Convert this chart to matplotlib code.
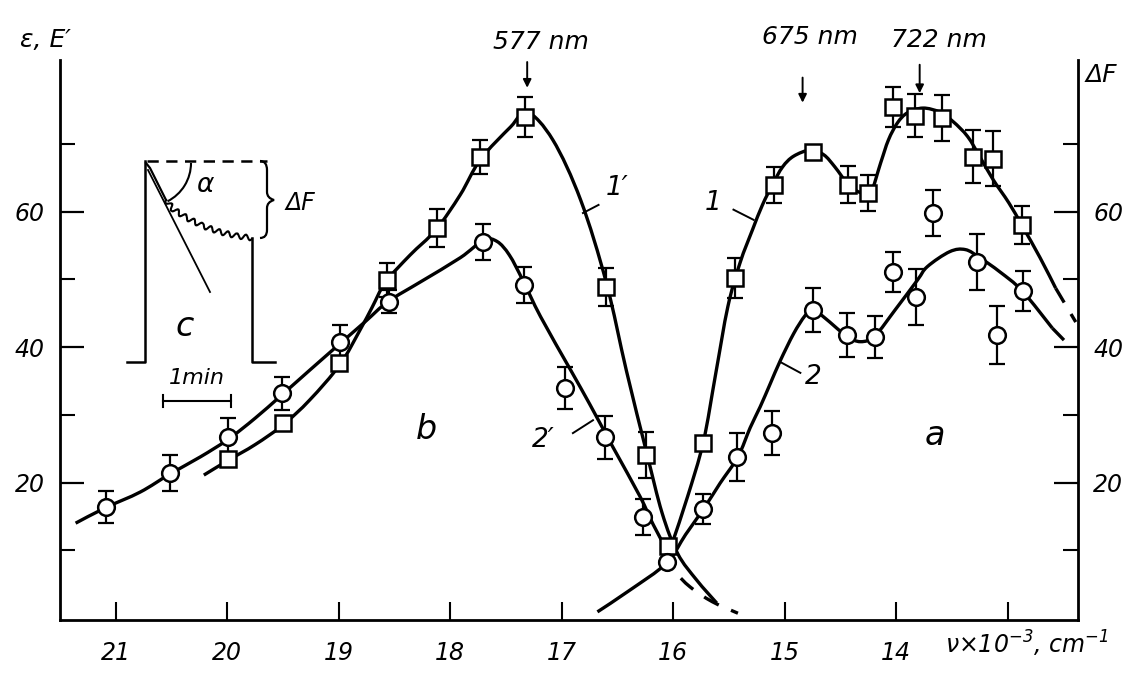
import numpy as np
import matplotlib
matplotlib.use('Agg')
import matplotlib.pyplot as plt
from matplotlib.path import Path
from matplotlib.patches import PathPatch, Arc

plt.rcParams['font.family'] = ['DejaVu Sans']
plt.rcParams['font.style'] = 'italic'
plt.rcParams['mathtext.fontset'] = 'dejavusans'
plt.rcParams['mathtext.default'] = 'it'

# ---------------- data (wavenumber x 10^-3 cm^-1, value) ----------------
# curve 1' : squares, spectrum b
sq_b_nu  = [19.99, 19.50, 19.00, 18.57, 18.12, 17.73, 17.33, 16.60, 16.24, 16.05]
sq_b_val = [23.5, 28.8, 37.7, 49.9, 57.6, 68.1, 74.0, 48.9, 24.1, 10.7]
sq_b_err = [0, 0, 0, 2.5, 2.8, 2.5, 2.9, 2.85, 3.4, 0]

# curve 2' : circles, spectrum b
ci_b_nu  = [21.09, 20.51, 19.99, 19.51, 18.99, 18.55, 17.71, 17.34, 16.97, 16.61, 16.27]
ci_b_val = [16.4, 21.4, 26.7, 33.2, 40.8, 46.7, 55.5, 49.2, 34.0, 26.7, 14.9]
ci_b_err = [2.35, 2.65, 2.8, 2.45, 2.5, 1.7, 2.65, 2.65, 3.1, 3.2, 2.7]

# curve 1 : squares, spectrum a
sq_a_nu  = [15.73, 15.45, 15.10, 14.75, 14.43, 14.25, 14.03, 13.83, 13.59, 13.31, 13.13, 12.87]
sq_a_val = [25.8, 50.2, 64.0, 68.8, 64.0, 62.8, 75.5, 74.2, 73.9, 68.1, 67.8, 58.0]
sq_a_err = [0, 2.95, 2.65, 0, 2.7, 2.65, 2.95, 3.2, 3.4, 3.9, 4.05, 2.8]

# curve 2 : circles, spectrum a
ci_a_nu  = [16.06, 15.73, 15.43, 15.11, 14.75, 14.44, 14.19, 14.03, 13.82, 13.67, 13.28, 13.10, 12.86]
ci_a_val = [8.3, 16.1, 23.8, 27.3, 45.5, 41.8, 41.5, 51.1, 47.4, 59.8, 52.6, 41.8, 48.3]
ci_a_err = [0, 2.25, 3.5, 3.3, 3.25, 3.3, 3.1, 2.9, 4.2, 3.4, 4.1, 4.3, 3.0]

# hand-drawn fitted curves (knots)
c1p_nu  = [20.21, 19.99, 19.75, 19.50, 19.26, 18.99, 18.81, 18.70, 18.58, 18.36, 18.13, 17.91,
           17.73, 17.46, 17.31, 17.08, 16.83, 16.60, 16.42, 16.24, 16.10, 15.96, 15.79, 15.61]
c1p_val = [21.1, 23.3, 25.6, 28.5, 32.2, 37.4, 42.5, 45.9, 49.6, 53.6, 57.3, 62.5,
           67.7, 72.5, 74.7, 70.6, 61.7, 49.5, 36.5, 24.5, 15.5, 9.5, 5.6, 2.2]

c2p_nu  = [21.36, 21.09, 20.78, 20.51, 20.24, 19.99, 19.75, 19.52, 19.26, 18.99, 18.76, 18.56,
           18.27, 17.91, 17.70, 17.58, 17.47, 17.35, 17.19, 16.92, 16.75, 16.54, 16.30, 16.18, 16.05]
c2p_val = [14.0, 16.3, 18.6, 21.3, 23.8, 26.4, 29.5, 32.8, 36.6, 40.5, 43.8, 46.7,
           49.6, 53.2, 55.8, 55.6, 53.6, 49.9, 44.5, 36.6, 31.6, 25.2, 18.0, 13.8, 9.8]
c2p_dash_nu  = [16.05, 15.98, 15.85, 15.65, 15.42]
c2p_dash_val = [9.8, 6.9, 4.6, 2.4, 0.7]

c1_nu  = [16.00, 15.87, 15.73, 15.62, 15.51, 15.40, 15.29, 15.20, 15.11, 15.02, 14.92, 14.77,
          14.65, 14.55, 14.43, 14.32, 14.23, 14.14, 14.07, 13.99, 13.90, 13.76, 13.61, 13.49,
          13.36, 13.25, 13.13, 12.99, 12.87, 12.71, 12.57]
c1_val = [11.5, 18.0, 26.0, 36.0, 46.0, 52.5, 57.3, 61.0, 64.0, 66.6, 68.2, 69.1,
          68.4, 66.6, 64.0, 62.8, 62.8, 67.2, 70.6, 73.1, 74.6, 75.3, 74.7, 73.3,
          71.1, 68.1, 64.7, 61.3, 57.9, 53.2, 48.7]
c1_dash_nu  = [12.57, 12.48, 12.39]
c1_dash_val = [48.7, 46.2, 43.7]

c2_nu  = [16.68, 16.39, 16.06, 15.89, 15.72, 15.58, 15.42, 15.31, 15.22, 15.13, 15.04, 14.92,
          14.82, 14.75, 14.64, 14.45, 14.32, 14.19, 14.01, 13.81, 13.72, 13.52, 13.38, 13.25,
          13.07, 12.87, 12.60]
c2_val = [0.9, 4.1, 8.1, 12.3, 16.3, 19.9, 23.8, 28.1, 31.2, 34.6, 38.0, 42.0,
          44.6, 45.6, 44.3, 41.7, 40.8, 41.7, 45.5, 49.9, 51.9, 54.1, 54.4, 53.2,
          51.1, 48.3, 42.8]
c2_dash_nu  = [12.60, 12.47]
c2_dash_val = [42.8, 40.6]

x_ticks = [21, 20, 19, 18, 17, 16, 15, 14, 13]
x_tick_labels = ['21', '20', '19', '18', '17', '16', '15', '14', '']
y_major = [20, 40, 60]
y_minor = [10, 30, 50, 70]

# ---------------- figure ----------------
W, H = 1140, 680
fig = plt.figure(figsize=(W / 100, H / 100), dpi=100)
fig.patch.set_facecolor('white')
ax = fig.add_axes([60 / W, 60 / H, 1018 / W, 560 / H])
ax.set_xlim(21.50, 12.37)
ax.set_ylim(-0.3, 82.4)
ax.set_facecolor('none')

for s in ['left', 'bottom', 'right']:
    ax.spines[s].set_linewidth(2.0)
ax.spines['top'].set_visible(False)

ax.set_xticks(x_ticks)
ax.set_xticklabels(x_tick_labels)
ax.tick_params(axis='x', direction='in', length=13, width=1.5, pad=15, labelsize=17)
ax.set_yticks(y_major)
ax.set_yticks(y_minor, minor=True)
ax.tick_params(axis='y', which='major', direction='in', length=17, width=1.6,
               left=True, right=True, labelleft=True, labelright=True, labelsize=17, pad=11)
ax.tick_params(axis='y', which='minor', direction='in', length=11, width=1.5,
               left=True, right=True)


def smooth_path(xs, ys):
    P = np.column_stack([xs, ys]).astype(float)
    n = len(P)
    verts = [P[0]]
    codes = [Path.MOVETO]
    for i in range(n - 1):
        p0 = P[i - 1] if i > 0 else P[i]
        p1 = P[i]
        p2 = P[i + 1]
        p3 = P[i + 2] if i + 2 < n else P[i + 1]
        verts += [p1 + (p2 - p0) / 6.0, p2 - (p3 - p1) / 6.0, p2]
        codes += [Path.CURVE4] * 3
    return Path(verts, codes)


def draw_curve(xs, ys, dashed=False):
    patch = PathPatch(smooth_path(xs, ys), fill=False, ec='black', lw=2.4,
                      capstyle='butt', joinstyle='round', zorder=2,
                      linestyle=(0, (5, 4)) if dashed else '-')
    ax.add_patch(patch)


draw_curve(c1p_nu, c1p_val)
draw_curve(c2p_nu, c2p_val)
draw_curve(c2p_dash_nu, c2p_dash_val, dashed=True)
draw_curve(c1_nu, c1_val)
draw_curve(c1_dash_nu, c1_dash_val, dashed=True)
draw_curve(c2_nu, c2_val)
draw_curve(c2_dash_nu, c2_dash_val, dashed=True)


def draw_points(nu, val, err, marker):
    nu = np.asarray(nu); val = np.asarray(val); err = np.asarray(err)
    m = err > 0
    ax.errorbar(nu[m], val[m], yerr=err[m], fmt='none', ecolor='black',
                elinewidth=1.6, capsize=6, capthick=1.6, zorder=3)
    ax.plot(nu, val, linestyle='none', marker=marker, ms=12 if marker == 'o' else 11.5,
            mfc='white', mec='black', mew=1.8, zorder=4)


draw_points(sq_b_nu, sq_b_val, sq_b_err, 's')
draw_points(ci_b_nu, ci_b_val, ci_b_err, 'o')
draw_points(sq_a_nu, sq_a_val, sq_a_err, 's')
draw_points(ci_a_nu, ci_a_val, ci_a_err, 'o')

# peak wavelength markers
arrow_kw = dict(arrowstyle='-|>', lw=1.4, color='black', mutation_scale=12, shrinkA=0, shrinkB=0)
peaks = [('577 nm', 17.31, 82.1, 78.3, 17.19, 85.1),
         ('675 nm', 14.84, 79.8, 76.1, 14.77, 85.8),
         ('722 nm', 13.79, 81.7, 77.5, 13.62, 85.4)]
for lab, xa, y0, y1, xt, yt in peaks:
    ax.annotate('', xy=(xa, y1), xytext=(xa, y0), arrowprops=arrow_kw, annotation_clip=False)
    ax.text(xt, yt, lab, ha='center', va='center', fontsize=18, clip_on=False)

# curve labels with leader lines
labels = [("1′", 16.50, 63.5, (16.81, 16.67), (59.8, 61.0)),
          ("1", 15.64, 61.3, (15.46, 15.28), (60.3, 58.8)),
          ("2", 14.74, 35.6, (15.04, 14.86), (37.8, 36.2)),
          ("2′", 17.17, 26.3, (16.90, 16.72), (27.3, 29.2))]
for lab, xt, yt, lx, ly in labels:
    ax.text(xt, yt, lab, ha='center', va='center', fontsize=19)
    ax.plot(lx, ly, color='black', lw=1.4, zorder=2)

ax.text(18.21, 27.8, 'b', ha='center', va='center', fontsize=24)
ax.text(13.65, 27.0, 'a', ha='center', va='center', fontsize=24)

# axis titles (figure pixel positions)
fig.text(45 / W, 1 - 40 / H, 'ε, E′', ha='center', va='center', fontsize=18)
fig.text(1101 / W, 1 - 75 / H, 'ΔF', ha='center', va='center', fontsize=18)
fig.text(1027 / W, 1 - 644 / H, r'$\nu$×10$^{-3}$, cm$^{-1}$', ha='center', va='center', fontsize=17)

# ---------------- inset c (schematic kinetic trace) ----------------
ins = fig.add_axes([115 / W, 1 - 410 / H, 215 / W, 260 / H])
ins.set_xlim(115, 330)
ins.set_ylim(410, 150)
ins.axis('off')
lw_i = 1.8
ins.plot([127, 145, 145], [362, 362, 161], color='black', lw=lw_i)
ins.plot([252, 252, 275], [238, 362, 362], color='black', lw=lw_i)
ins.plot([147, 267], [161, 161], color='black', lw=lw_i, linestyle=(0, (4.5, 3)))
ins.plot([146, 150, 158, 166], [163, 168, 184, 200], color='black', lw=1.6)
trace, = ins.plot([166, 173, 187, 203, 220, 237, 252],
                  [200, 209, 218, 226, 232, 236, 238], color='black', lw=1.5)
trace.set_sketch_params(scale=2.6, length=9, randomness=1)
ins.plot([148, 210], [170, 292], color='black', lw=1.3)
ins.add_patch(Arc((148, 163), 86, 86, theta1=0, theta2=63, color='black', lw=1.5))
brace = Path([(260, 161), (267, 161), (267, 170), (267, 192), (267, 198), (274, 200),
              (267, 202), (267, 208), (267, 230), (267, 238), (260, 238)],
             [Path.MOVETO, Path.CURVE3, Path.CURVE3, Path.LINETO, Path.CURVE3, Path.CURVE3,
              Path.CURVE3, Path.CURVE3, Path.LINETO, Path.CURVE3, Path.CURVE3])
ins.add_patch(PathPatch(brace, fill=False, ec='black', lw=1.6))
ins.text(205, 185, 'α', ha='center', va='center', fontsize=19)
ins.text(300, 203, 'ΔF', ha='center', va='center', fontsize=17)
ins.text(185, 326, 'c', ha='center', va='center', fontsize=24)
ins.text(197, 378, '1min', ha='center', va='center', fontsize=16)
ins.plot([163, 231], [401, 401], color='black', lw=1.5)
ins.plot([163, 163], [395, 407], color='black', lw=1.5)
ins.plot([231, 231], [395, 407], color='black', lw=1.5)

fig.savefig('out.png', dpi=100, facecolor='white')
